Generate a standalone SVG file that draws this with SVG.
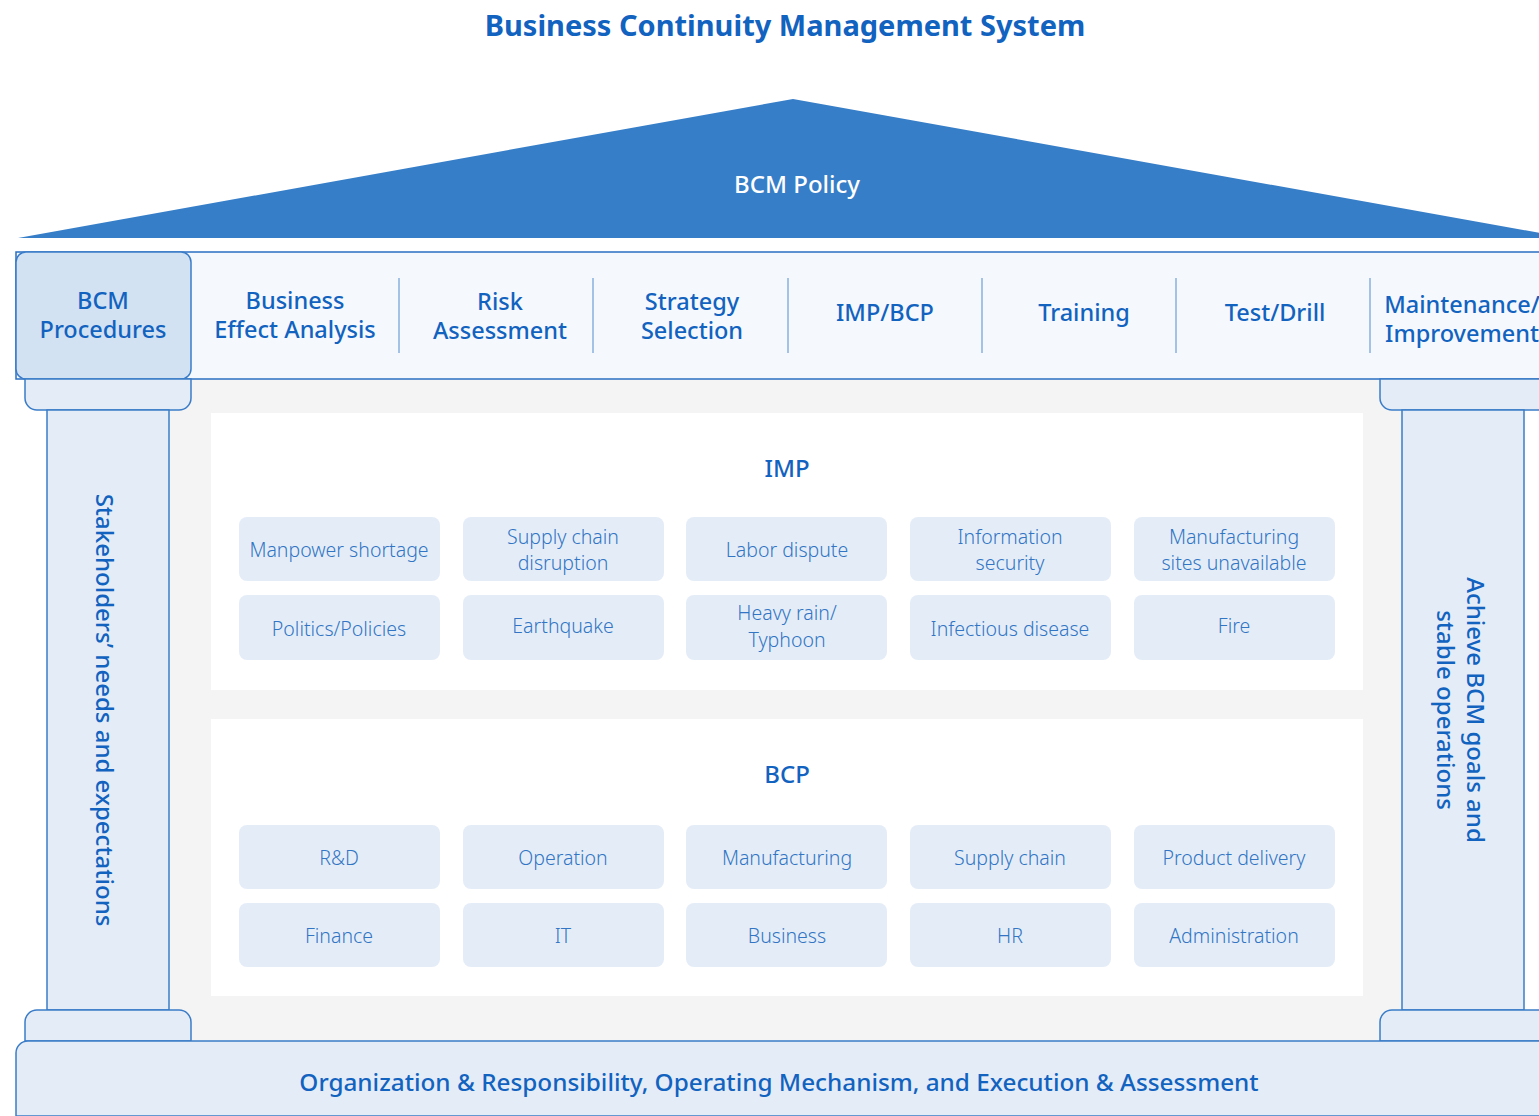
<svg xmlns="http://www.w3.org/2000/svg" width="1539" height="1116" viewBox="0 0 1539 1116">
<style>
text{font-family:"Noto Sans","Liberation Sans",sans-serif;text-anchor:middle;}
.t{fill:#1262bf;font-weight:700;font-size:29px;}
.hd{fill:#1262bf;font-weight:500;font-size:23.5px;}
.bt{fill:#1262bf;font-weight:500;font-size:24.3px;}
.sec{fill:#1262bf;font-weight:500;font-size:24px;}
.cell{fill:#e4edf7;}
.ct{fill:#3275c4;font-weight:300;font-size:19.5px;}
.pil{fill:#e4edf7;stroke:#3a7cc8;stroke-width:1.5;}
.div{stroke:#a3c2e6;stroke-width:2;}
</style>
<rect width="1539" height="1116" fill="#ffffff"/>
<text class="t" x="785" y="36">Business Continuity Management System</text>
<g id="roof">
<polygon points="18,238 793,99 1568,238" fill="#377ec8"/>
<text x="797" y="193" fill="#ffffff" font-size="24" font-weight="500">BCM Policy</text>
</g>
<rect x="169" y="379" width="1233" height="662" fill="#f4f4f4"/>
<g id="header">
<rect x="16" y="252" width="1540" height="127" fill="#f5f9fd" stroke="#2a6fc2" stroke-width="1.5"/>
<line class="div" x1="399" y1="278" x2="399" y2="353"/>
<line class="div" x1="593" y1="278" x2="593" y2="353"/>
<line class="div" x1="788" y1="278" x2="788" y2="353"/>
<line class="div" x1="982" y1="278" x2="982" y2="353"/>
<line class="div" x1="1176" y1="278" x2="1176" y2="353"/>
<line class="div" x1="1370" y1="278" x2="1370" y2="353"/>
<text class="hd" x="295" y="309">Business</text>
<text class="hd" x="295" y="338">Effect Analysis</text>
<text class="hd" x="500" y="310">Risk</text>
<text class="hd" x="500" y="339">Assessment</text>
<text class="hd" x="692" y="310">Strategy</text>
<text class="hd" x="692" y="339">Selection</text>
<text class="hd" x="885" y="321">IMP/BCP</text>
<text class="hd" x="1084" y="321">Training</text>
<text class="hd" x="1275" y="321">Test/Drill</text>
<text class="hd" x="1462" y="313">Maintenance/</text>
<text class="hd" x="1462" y="342">Improvement</text>
</g>
<g id="bcm-procedures">
<rect x="16" y="252" width="175" height="127" rx="10" fill="#d3e2f2" stroke="#3a7cc8" stroke-width="1.5"/>
<text class="hd" x="103" y="309">BCM</text>
<text class="hd" x="103" y="338">Procedures</text>
</g>
<g id="left-pillar">
<path class="pil" d="M25,379 H191 V398 A12,12 0 0 1 179,410 H37 A12,12 0 0 1 25,398 Z"/>
<rect class="pil" x="47" y="410" width="122" height="600"/>
<path class="pil" d="M25,1041 V1022 A12,12 0 0 1 37,1010 H179 A12,12 0 0 1 191,1022 V1041 Z"/>
<text class="sec" transform="translate(96,710) rotate(90)">Stakeholders’ needs and expectations</text>
</g>
<g id="right-pillar">
<path class="pil" d="M1380,379 H1560 V398 A12,12 0 0 1 1548,410 H1392 A12,12 0 0 1 1380,398 Z"/>
<rect class="pil" x="1402" y="410" width="122" height="600"/>
<path class="pil" d="M1380,1041 V1022 A12,12 0 0 1 1392,1010 H1560 V1041 Z"/>
<text class="sec" transform="translate(1467,710) rotate(90)">Achieve BCM goals and</text>
<text class="sec" transform="translate(1437,710) rotate(90)">stable operations</text>
</g>
<g id="base">
<path d="M16,1116 V1053 A12,12 0 0 1 28,1041 H1560 V1116 Z" fill="#e4edf7" stroke="#3a7cc8" stroke-width="1.5"/>
<text class="bt" x="779" y="1091">Organization &amp; Responsibility, Operating Mechanism, and Execution &amp; Assessment</text>
</g>
<g id="imp">
<rect x="211" y="413" width="1152" height="277" fill="#ffffff"/>
<text class="sec" x="787" y="477">IMP</text>
<rect class="cell" x="239" y="517" width="201" height="64" rx="8"/>
<rect class="cell" x="463" y="517" width="201" height="64" rx="8"/>
<rect class="cell" x="686" y="517" width="201" height="64" rx="8"/>
<rect class="cell" x="910" y="517" width="201" height="64" rx="8"/>
<rect class="cell" x="1134" y="517" width="201" height="64" rx="8"/>
<rect class="cell" x="239" y="595" width="201" height="65" rx="8"/>
<rect class="cell" x="463" y="595" width="201" height="65" rx="8"/>
<rect class="cell" x="686" y="595" width="201" height="65" rx="8"/>
<rect class="cell" x="910" y="595" width="201" height="65" rx="8"/>
<rect class="cell" x="1134" y="595" width="201" height="65" rx="8"/>
<text class="ct" x="339" y="557">Manpower shortage</text>
<text class="ct" x="563" y="544">Supply chain</text>
<text class="ct" x="563" y="570">disruption</text>
<text class="ct" x="787" y="557">Labor dispute</text>
<text class="ct" x="1010" y="544">Information</text>
<text class="ct" x="1010" y="570">security</text>
<text class="ct" x="1234" y="544">Manufacturing</text>
<text class="ct" x="1234" y="570">sites unavailable</text>
<text class="ct" x="339" y="636">Politics/Policies</text>
<text class="ct" x="563" y="633">Earthquake</text>
<text class="ct" x="787" y="620">Heavy rain/</text>
<text class="ct" x="787" y="647">Typhoon</text>
<text class="ct" x="1010" y="636">Infectious disease</text>
<text class="ct" x="1234" y="633">Fire</text>
</g>
<g id="bcp">
<rect x="211" y="719" width="1152" height="277" fill="#ffffff"/>
<text class="sec" x="787" y="783">BCP</text>
<rect class="cell" x="239" y="825" width="201" height="64" rx="8"/>
<rect class="cell" x="463" y="825" width="201" height="64" rx="8"/>
<rect class="cell" x="686" y="825" width="201" height="64" rx="8"/>
<rect class="cell" x="910" y="825" width="201" height="64" rx="8"/>
<rect class="cell" x="1134" y="825" width="201" height="64" rx="8"/>
<rect class="cell" x="239" y="903" width="201" height="64" rx="8"/>
<rect class="cell" x="463" y="903" width="201" height="64" rx="8"/>
<rect class="cell" x="686" y="903" width="201" height="64" rx="8"/>
<rect class="cell" x="910" y="903" width="201" height="64" rx="8"/>
<rect class="cell" x="1134" y="903" width="201" height="64" rx="8"/>
<text class="ct" x="339" y="865">R&amp;D</text>
<text class="ct" x="563" y="865">Operation</text>
<text class="ct" x="787" y="865">Manufacturing</text>
<text class="ct" x="1010" y="865">Supply chain</text>
<text class="ct" x="1234" y="865">Product delivery</text>
<text class="ct" x="339" y="943">Finance</text>
<text class="ct" x="563" y="943">IT</text>
<text class="ct" x="787" y="943">Business</text>
<text class="ct" x="1010" y="943">HR</text>
<text class="ct" x="1234" y="943">Administration</text>
</g>
</svg>
